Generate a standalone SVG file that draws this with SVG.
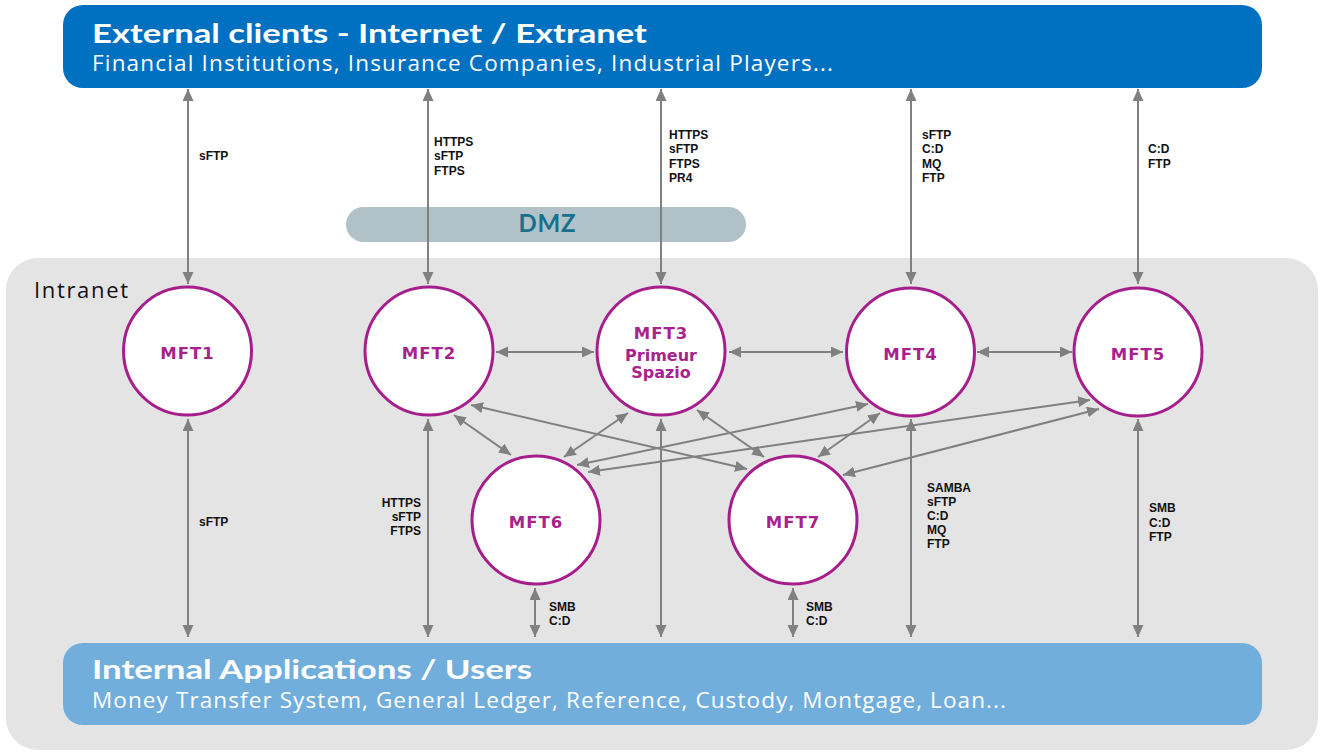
<svg xmlns="http://www.w3.org/2000/svg" width="1321" height="752" viewBox="0 0 1321 752">
<style>
.big{fill:#ffffff}
.t{font-family:Lato,"Open Sans","Liberation Sans",sans-serif;font-weight:bold;font-size:27px}
.s{font-family:"Open Sans","Noto Sans","Liberation Sans",sans-serif;font-size:22.5px}
.lbl{font-family:"Liberation Sans",Arial,sans-serif;font-weight:bold;font-size:12px;fill:#111111}
.node circle{fill:#ffffff;stroke:#A61E8C;stroke-width:3}
.node text{font-family:"DejaVu Sans","Liberation Sans",sans-serif;font-weight:bold;font-size:16.5px;fill:#A8228E;text-anchor:middle}
.node text.sm{font-size:16px}
.conn line{stroke:#808080;stroke-width:2;marker-start:url(#ah);marker-end:url(#ah)}
</style>
<defs>
<marker id="ah" markerUnits="userSpaceOnUse" markerWidth="13" markerHeight="12" refX="12" refY="5.5" orient="auto-start-reverse" viewBox="0 0 13 12">
<path d="M0,0 L12,5.5 L0,11 z" fill="#808080"/>
</marker>
</defs>

<g id="intranet">
<rect x="6" y="258" width="1312" height="492" rx="32" fill="#E4E4E4"/>
<text x="34" y="298" font-family="'Open Sans','Noto Sans',sans-serif" font-size="22" fill="#111111" textLength="94">Intranet</text>
</g>

<g id="external">
<rect x="63" y="5" width="1199" height="83" rx="20" fill="#0070C0"/>
<text class="big t" x="92" y="43" textLength="555" lengthAdjust="spacingAndGlyphs">External clients - Internet / Extranet</text>
<text class="big s" x="92" y="71" textLength="741">Financial Institutions, Insurance Companies, Industrial Players...</text>
</g>

<g id="dmz">
<rect x="346" y="207" width="400" height="35" rx="17.5" fill="#B1C1C8"/>
<text x="547" y="232" text-anchor="middle" font-family="Lato,'Open Sans',sans-serif" font-weight="bold" font-size="24" fill="#17708F" textLength="57">DMZ</text>
</g>

<g id="internal">
<rect x="63" y="643" width="1199" height="82" rx="20" fill="#71AEDC"/>
<text class="big t" x="92" y="679" textLength="440" lengthAdjust="spacingAndGlyphs">Internal Applications / Users</text>
<text class="big s" x="92" y="708" textLength="914">Money Transfer System, General Ledger, Reference, Custody, Montgage, Loan...</text>
</g>

<g id="connectors" class="conn">
<line x1="188" y1="89" x2="188" y2="284"/>
<line x1="428" y1="89" x2="428" y2="284"/>
<line x1="661" y1="89" x2="661" y2="284"/>
<line x1="911" y1="89" x2="911" y2="284"/>
<line x1="1138" y1="89" x2="1138" y2="284"/>
<line x1="188" y1="419" x2="188" y2="637"/>
<line x1="428" y1="419" x2="428" y2="637"/>
<line x1="661" y1="419" x2="661" y2="637"/>
<line x1="911" y1="419" x2="911" y2="637"/>
<line x1="1138" y1="419" x2="1138" y2="637"/>
<line x1="535" y1="588" x2="535" y2="637"/>
<line x1="793" y1="588" x2="793" y2="637"/>
<line x1="496" y1="352" x2="594" y2="352"/>
<line x1="729" y1="352" x2="843" y2="352"/>
<line x1="977" y1="352" x2="1072" y2="352"/>
<line x1="454" y1="415" x2="511" y2="455"/>
<line x1="471" y1="405" x2="747" y2="469"/>
<line x1="628" y1="413" x2="564" y2="457"/>
<line x1="697" y1="410" x2="764" y2="457"/>
<line x1="868" y1="404" x2="577" y2="465"/>
<line x1="1090" y1="400" x2="588" y2="472"/>
<line x1="880" y1="413" x2="818" y2="457"/>
<line x1="1099" y1="409" x2="843" y2="475"/>
</g>

<g id="labels" class="lbl">
<text x="199" y="160">sFTP</text>
<text x="434" y="146">HTTPS</text><text x="434" y="160">sFTP</text><text x="434" y="175">FTPS</text>
<text x="669" y="139">HTTPS</text><text x="669" y="153">sFTP</text><text x="669" y="168">FTPS</text><text x="669" y="182">PR4</text>
<text x="922" y="139">sFTP</text><text x="922" y="153">C:D</text><text x="922" y="168">MQ</text><text x="922" y="182">FTP</text>
<text x="1148" y="153">C:D</text><text x="1148" y="168">FTP</text>
<text x="199" y="526">sFTP</text>
<g text-anchor="end"><text x="421" y="507">HTTPS</text><text x="421" y="521">sFTP</text><text x="421" y="535">FTPS</text></g>
<text x="927" y="492">SAMBA</text><text x="927" y="506">sFTP</text><text x="927" y="520">C:D</text><text x="927" y="534">MQ</text><text x="927" y="548">FTP</text>
<text x="1149" y="512">SMB</text><text x="1149" y="527">C:D</text><text x="1149" y="541">FTP</text>
<text x="549" y="611">SMB</text><text x="549" y="625">C:D</text>
<text x="806" y="611">SMB</text><text x="806" y="625">C:D</text>
</g>

<g id="MFT1" class="node"><circle cx="187.5" cy="351" r="64"/><text x="187.5" y="359" letter-spacing="1">MFT1</text></g>
<g id="MFT2" class="node"><circle cx="429" cy="351" r="64"/><text x="429" y="359" letter-spacing="1">MFT2</text></g>
<g id="MFT3" class="node"><circle cx="661" cy="351" r="64"/><text x="661" y="339" letter-spacing="1">MFT3</text><text class="sm" x="661" y="361">Primeur</text><text class="sm" x="661" y="378">Spazio</text></g>
<g id="MFT4" class="node"><circle cx="910.5" cy="352" r="64"/><text x="910.5" y="360" letter-spacing="1">MFT4</text></g>
<g id="MFT5" class="node"><circle cx="1138" cy="352" r="64"/><text x="1138" y="360" letter-spacing="1">MFT5</text></g>
<g id="MFT6" class="node"><circle cx="536" cy="520" r="64"/><text x="536" y="528" letter-spacing="1">MFT6</text></g>
<g id="MFT7" class="node"><circle cx="793" cy="520" r="64"/><text x="793" y="528" letter-spacing="1">MFT7</text></g>
</svg>
